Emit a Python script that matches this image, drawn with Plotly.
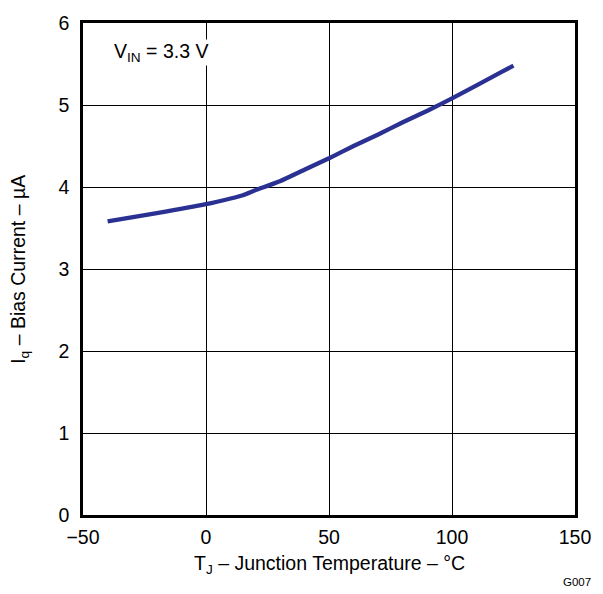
import plotly.graph_objects as go

temp_c = [-40, -20, 0, 10, 15, 20, 30, 40, 50, 60, 70, 80, 90, 100, 110, 120, 125]
bias_ua = [3.58, 3.68, 3.79, 3.86, 3.90, 3.96, 4.07, 4.21, 4.35, 4.50, 4.64, 4.79, 4.93, 5.08, 5.24, 5.40, 5.48]

x_ticks = [-50, 0, 50, 100, 150]
x_tick_text = ["\u221250", "0", "50", "100", "150"]
y_ticks = [0, 1, 2, 3, 4, 5, 6]

FONT = "Liberation Sans, Arial, sans-serif"
FS = 19.5

fig = go.Figure()
fig.add_trace(go.Scatter(
    x=temp_c, y=bias_ua, mode="lines",
    line=dict(color="#2B3192", width=4.3, shape="spline", smoothing=0.6),
    showlegend=False, hoverinfo="skip",
))

fig.update_layout(
    width=603, height=594,
    margin=dict(l=83, r=20, t=13, b=79),
    paper_bgcolor="white", plot_bgcolor="white",
    font=dict(family=FONT, size=FS, color="black"),
    xaxis=dict(
        range=[-50, 150], tickvals=x_ticks, ticktext=x_tick_text,
        showgrid=True, gridcolor="black", gridwidth=1.3,
        showline=True, linecolor="black", linewidth=2.5, mirror=True,
        zeroline=False, ticks="", ticklabelstandoff=3,
    ),
    yaxis=dict(
        range=[0, 6], tickvals=y_ticks,
        showgrid=True, gridcolor="black", gridwidth=1.3,
        showline=True, linecolor="black", linewidth=2.5, mirror=True,
        zeroline=False, ticks="", ticklabelstandoff=7,
    ),
    annotations=[
        dict(x=-38.0, y=5.64, xref="x", yref="y", xanchor="left", yanchor="middle",
             text="V<sub>IN</sub> = 3.3 V", showarrow=False, bgcolor="white",
             font=dict(size=FS), borderpad=0),
        dict(x=0.5, y=-0.101, xref="paper", yref="paper", xanchor="center", yanchor="middle",
             text="T<sub>J</sub> \u2013 Junction Temperature \u2013 \u00b0C",
             showarrow=False, font=dict(size=FS)),
        dict(x=-0.10, y=0.5, xref="paper", yref="paper", xanchor="center", yanchor="middle",
             text="I<sub>q</sub> \u2013 Bias Current \u2013 \u00b5A", textangle=-90,
             showarrow=False, font=dict(size=FS), xshift=-15),
        dict(x=1.0, y=-0.137, xref="paper", yref="paper", xanchor="right", yanchor="middle",
             text="G007", showarrow=False, font=dict(size=11.5), xshift=18),
    ],
)

fig.write_html("out.html")
